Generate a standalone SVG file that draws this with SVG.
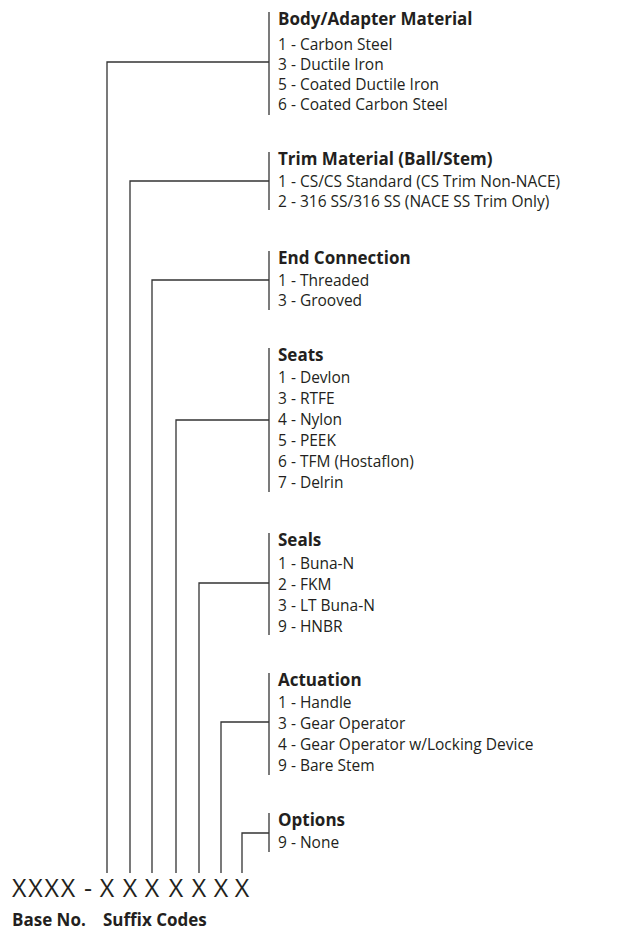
<svg xmlns="http://www.w3.org/2000/svg" width="618" height="936" viewBox="0 0 618 936">
<style>
.t{font-family:"Open Sans","Noto Sans",sans-serif;font-size:17px;font-weight:bold;fill:#231f20}
.i{font-family:"Open Sans","Noto Sans",sans-serif;font-size:15.5px;fill:#231f20}
.code{font-family:"Open Sans","Noto Sans",sans-serif;font-size:25px;fill:#231f20}
.lbl{font-family:"Open Sans","Noto Sans",sans-serif;font-size:17px;font-weight:bold;fill:#231f20}
.ln{fill:none;stroke:#333;stroke-width:1.3}
</style>
<rect width="618" height="936" fill="#fff"/>
<g id="connectors">
<path class="ln" d="M107,873 V62 H269"/>
<path class="ln" d="M130,873 V181 H269"/>
<path class="ln" d="M152,873 V280 H269"/>
<path class="ln" d="M176,873 V420 H269"/>
<path class="ln" d="M199,873 V583 H269"/>
<path class="ln" d="M221,873 V722 H269"/>
<path class="ln" d="M242,873 V833 H269"/>
</g>
<g id="body">
<path class="ln" d="M269,12 V115"/>
<text class="t" x="278" y="25">Body/Adapter Material</text>
<text class="i" x="278" y="49.5">1 - Carbon Steel</text>
<text class="i" x="278" y="69.5">3 - Ductile Iron</text>
<text class="i" x="278" y="89.5">5 - Coated Ductile Iron</text>
<text class="i" x="278" y="109.5">6 - Coated Carbon Steel</text>
</g>
<g id="trim">
<path class="ln" d="M269,152 V210"/>
<text class="t" x="278" y="165">Trim Material (Ball/Stem)</text>
<text class="i" x="278" y="186.5">1 - CS/CS Standard (CS Trim Non-NACE)</text>
<text class="i" x="278" y="206.5">2 - 316 SS/316 SS (NACE SS Trim Only)</text>
</g>
<g id="end">
<path class="ln" d="M269,251 V310"/>
<text class="t" x="278" y="264">End Connection</text>
<text class="i" x="278" y="285.5">1 - Threaded</text>
<text class="i" x="278" y="305.5">3 - Grooved</text>
</g>
<g id="seats">
<path class="ln" d="M269,348 V492"/>
<text class="t" x="278" y="361">Seats</text>
<text class="i" x="278" y="382.5">1 - Devlon</text>
<text class="i" x="278" y="403.5">3 - RTFE</text>
<text class="i" x="278" y="424.5">4 - Nylon</text>
<text class="i" x="278" y="445.5">5 - PEEK</text>
<text class="i" x="278" y="466.5">6 - TFM (Hostaflon)</text>
<text class="i" x="278" y="487.5">7 - Delrin</text>
</g>
<g id="seals">
<path class="ln" d="M269,533 V635"/>
<text class="t" x="278" y="546">Seals</text>
<text class="i" x="278" y="568.5">1 - Buna-N</text>
<text class="i" x="278" y="589.5">2 - FKM</text>
<text class="i" x="278" y="610.5">3 - LT Buna-N</text>
<text class="i" x="278" y="631.5">9 - HNBR</text>
</g>
<g id="actuation">
<path class="ln" d="M269,673 V775"/>
<text class="t" x="278" y="686">Actuation</text>
<text class="i" x="278" y="707.5">1 - Handle</text>
<text class="i" x="278" y="728.5">3 - Gear Operator</text>
<text class="i" x="278" y="749.5">4 - Gear Operator w/Locking Device</text>
<text class="i" x="278" y="770.5">9 - Bare Stem</text>
</g>
<g id="options">
<path class="ln" d="M269,813 V852"/>
<text class="t" x="278" y="826">Options</text>
<text class="i" x="278" y="847.5">9 - None</text>
</g>
<g id="code">
<text class="code" y="897"><tspan x="12" letter-spacing="1.8">XXXX</tspan><tspan x="84">-</tspan><tspan x="107" text-anchor="middle">X</tspan><tspan x="130" text-anchor="middle">X</tspan><tspan x="152" text-anchor="middle">X</tspan><tspan x="176" text-anchor="middle">X</tspan><tspan x="199" text-anchor="middle">X</tspan><tspan x="221" text-anchor="middle">X</tspan><tspan x="242" text-anchor="middle">X</tspan></text>
<text class="lbl" x="12" y="926">Base No.<tspan x="103">Suffix Codes</tspan></text>
</g>
</svg>
